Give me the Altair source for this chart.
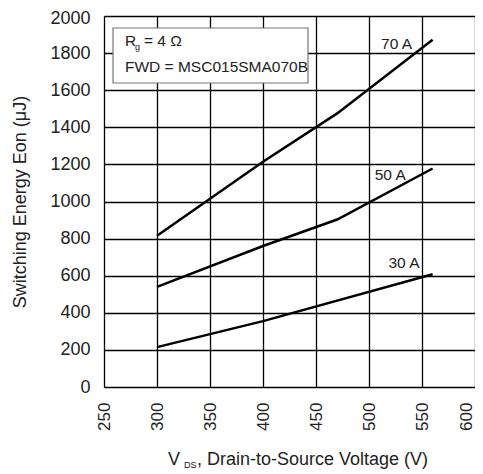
import altair as alt
import pandas as pd

# ---- data ----
vds_70 = [300, 400, 470, 560]
eon_70 = [815, 1214, 1475, 1872]
vds_50 = [300, 400, 470, 560]
eon_50 = [540, 760, 903, 1178]
vds_30 = [300, 400, 560]
eon_30 = [215, 355, 608]

curve_labels = ["70 A", "50 A", "30 A"]
label_v = [526, 520, 533]
label_e = [1847, 1141, 666]

x_ticks = [250, 300, 350, 400, 450, 500, 550, 600]
y_ticks = [0, 200, 400, 600, 800, 1000, 1200, 1400, 1600, 1800, 2000]

FONT = "Liberation Sans"
W, H = 371, 371

rows = []
for name, vs, es in [("70 A", vds_70, eon_70), ("50 A", vds_50, eon_50), ("30 A", vds_30, eon_30)]:
    for v, e in zip(vs, es):
        rows.append({"series": name, "V": v, "E": e})
df = pd.DataFrame(rows)
lab = pd.DataFrame({"text": curve_labels, "V": label_v, "E": label_e})

xs = alt.Scale(domain=[250, 600], nice=False, zero=False)
ys = alt.Scale(domain=[0, 2000], nice=False)

x_axis = alt.Axis(
    values=x_ticks, format="d", title=None, labelAngle=270, labelPadding=15,
    labelFontSize=17, labelFont=FONT, labelColor="#222", ticks=False,
    labelOverlap=False, labelBound=False, tickCount=8,
    labelOffset={"condition": {"test": "datum.value === 600", "value": -9}, "value": 0},
    domain=False, grid=True, gridColor="black", gridWidth=1.3, gridOpacity=1)
y_axis = alt.Axis(
    values=y_ticks, format="d", title="Switching Energy Eon  (\u03bcJ)", labelPadding=14,
    labelFontSize=18, labelFont=FONT, labelColor="#222", ticks=False,
    labelOverlap=False, labelBound=False, tickCount=11,
    labelOffset={"condition": {"test": "datum.value === 2000", "value": 2}, "value": 0},
    domain=False, grid=True, gridColor="black", gridWidth=1.3, gridOpacity=1,
    titleFont=FONT, titleFontSize=18, titleFontWeight="normal", titleColor="#222",
    titlePadding=20)

lines = alt.Chart(df).mark_line(color="black", strokeWidth=2.5).encode(
    x=alt.X("V:Q", scale=xs, axis=x_axis),
    y=alt.Y("E:Q", scale=ys, axis=y_axis),
    detail="series:N",
)

labels = alt.Chart(lab).mark_text(font=FONT, fontSize=15.5, color="#222", baseline="middle", align="center").encode(
    x=alt.X("V:Q", scale=xs, axis=x_axis), y=alt.Y("E:Q", scale=ys, axis=y_axis), text="text:N")

# annotation box
box = alt.Chart(pd.DataFrame({"a": [0]})).mark_rect(
    fill="white", stroke="#777", strokeWidth=1.2).encode(
    x=alt.value(9), x2=alt.value(204), y=alt.value(12), y2=alt.value(67))

def txt(s, x, y, size, align="left"):
    return alt.Chart(pd.DataFrame({"t": [s]})).mark_text(
        font=FONT, fontSize=size, color="#222", align=align, baseline="alphabetic").encode(
        x=alt.value(x), y=alt.value(y), text="t:N")

ann = [
    txt("R", 21, 30, 15.5),
    txt("g", 31, 34, 9),
    txt("= 4 \u03a9", 40, 30, 15.5),
    txt("FWD = MSC015SMA070B", 21, 56, 15.5),
    txt("V", 64, 449, 18),
    txt("DS", 80, 452, 9),
    txt(", Drain-to-Source Voltage (V)", 93, 449, 18),
]

chart = alt.layer(lines, labels, box, *ann).properties(
    width=W, height=H,
    autosize=alt.AutoSizeParams(type="none"),
    padding={"left": 96, "top": 8, "right": 0, "bottom": 86},
).configure_view(stroke="black", strokeWidth=2.5).configure(background="white")

chart.save("out.html", embed_options={"renderer": "svg", "actions": False})
